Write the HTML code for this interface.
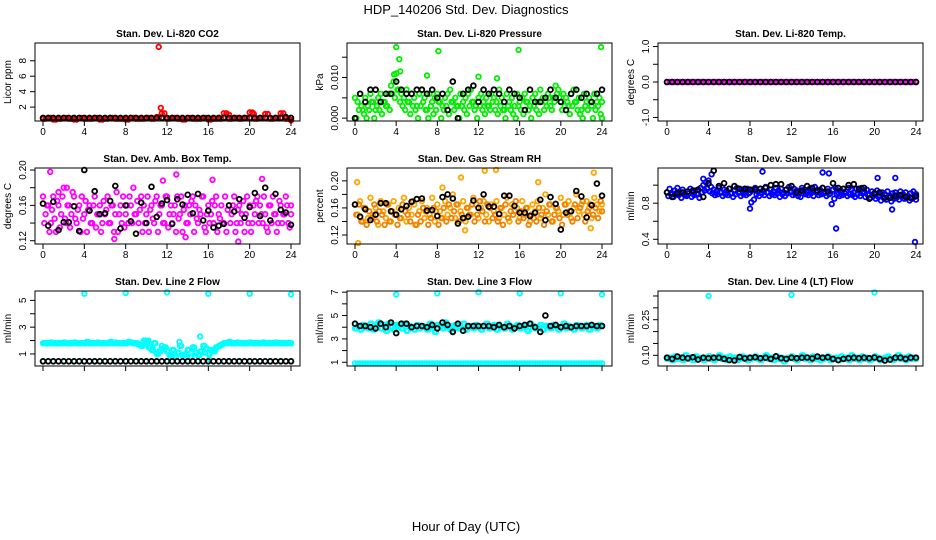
<!DOCTYPE html>
<html><head><meta charset="utf-8"><style>
html,body{margin:0;padding:0;background:#fff;}
svg{display:block;font-family:"Liberation Sans",sans-serif;}
</style></head><body>
<svg id="chart" width="936" height="540" viewBox="0 0 936 540">
<text x="466" y="14" text-anchor="middle" font-size="13">HDP_140206  Std. Dev. Diagnostics</text>
<text x="466" y="531" text-anchor="middle" font-size="13">Hour of Day (UTC)</text>
</svg>
<script>
// ---------- DATA ----------
const xTicks=[0,4,8,12,16,20,24];
// P1 CO2
const co2Red=[0.5,0.6,0.4,0.5,0.6,0.5,0.4,0.6,0.5,0.5,0.6,0.4,0.5,0.6,0.5,0.5,0.4,0.6,0.5,0.5,0.6,0.5,0.7,1.2,0.5,0.6,0.5,0.4,0.6,0.5,0.5,0.6,0.4,0.5,0.5,1.2,0.5,0.6,0.5,0.6,1.3,0.5,0.6,1.1,0.5,0.6,1.2,0.5,0.3];
const co2OutX=[11.2,11.4,18,20.4];
const co2OutY=[9.8,1.9,1.0,1.1];
const co2Black=[0.6,0.6,0.6,0.6,0.6,0.6,0.6,0.6,0.6,0.6,0.6,0.6,0.6,0.6,0.6,0.6,0.6,0.6,0.6,0.6,0.6,0.6,0.6,0.6,0.6,0.6,0.6,0.6,0.6,0.6,0.6,0.6,0.6,0.6,0.6,0.6,0.6,0.6,0.6,0.6,0.6,0.6,0.6,0.6,0.6,0.6,0.6,0.7,0.6];
// P2 Pressure
const presA=[0.005,0.004,0.006,0.002,0.005,0.003,0.006,0.004,0.002,0.005,0.006,0.004,0.003,0.006,0.008,0.009,0.011,0.007,0.006,0.005,0.007,0.004,0.006,0.005,0.003,0.006,0.007,0.005,0.002,0.006,0.004,0.005,0.006,0.004,0.003,0.005,0.006,0.007,0.004,0.005,0.003,0.006,0.004,0.005,0.006,0.007,0.004,0.003,0.005,0.006,0.004,0.005,0.003,0.006,0.005,0.004,0.007,0.005,0.002,0.006,0.004,0.005,0.003,0.006,0.004,0.005,0.006,0.004,0.003,0.005,0.006,0.004,0.007,0.005,0.004,0.006,0.003,0.005,0.008,0.007,0.004,0.006,0.005,0.003,0.006,0.007,0.004,0.005,0.002,0.006,0.004,0.005,0.003,0.006,0.004,0.005,0.004];
const presB=[0.000,0.002,0.003,0.001,0.000,0.002,0.004,0.000,0.003,0.002,0.001,0.004,0.003,0.002,0.006,0.005,0.007,0.004,0.003,0.002,0.004,0.001,0.003,0.002,0.000,0.003,0.004,0.002,0.000,0.003,0.001,0.002,0.004,0.000,0.002,0.003,0.001,0.004,0.002,0.003,0.000,0.003,0.002,0.001,0.003,0.004,0.002,0.000,0.003,0.002,0.001,0.003,0.002,0.004,0.002,0.001,0.003,0.002,0.000,0.003,0.002,0.001,0.000,0.003,0.002,0.001,0.004,0.002,0.000,0.003,0.002,0.001,0.004,0.002,0.003,0.005,0.002,0.004,0.006,0.005,0.002,0.003,0.004,0.001,0.003,0.004,0.002,0.001,0.000,0.003,0.002,0.004,0.000,0.002,0.003,0.001,0.000];
const presOutX=[4.0,4.3,4.4,7.0,8.1,15.9,23.9,3.8,12,13.8];
const presOutY=[0.0175,0.0145,0.0115,0.0105,0.0165,0.0168,0.0175,0.0108,0.0102,0.0098];
const presBlack=[0.000,0.006,0.004,0.007,0.007,0.004,0.006,0.006,0.009,0.007,0.006,0.006,0.007,0.007,0.006,0.007,0.005,0.006,0.002,0.009,0.000,0.006,0.007,0.008,0.004,0.007,0.006,0.007,0.006,0.004,0.007,0.006,0.005,0.002,0.007,0.004,0.004,0.005,0.007,0.005,0.004,0.002,0.006,0.007,0.005,0.006,0.004,0.006,0.007];
// P3 Temp
const tempMag=[0,0,0,0,0,0,0,0,0,0,0,0,0,0,0,0,0,0,0,0,0,0,0,0,0,0,0,0,0,0,0,0,0,0,0,0,0,0,0,0,0,0,0,0,0,0,0,0,0];
const tempBlack=[0,0,0,0,0,0,0,0,0,0,0,0,0,0,0,0,0,0,0,0,0,0,0,0,0,0,0,0,0,0,0,0,0,0,0,0,0,0,0,0,0,0,0,0,0,0,0,0,0];
// P4 Amb box temp
const ambA=[0.17,0.15,0.16,0.14,0.17,0.13,0.16,0.15,0.18,0.14,0.16,0.15,0.17,0.14,0.16,0.17,0.15,0.13,0.16,0.14,0.17,0.15,0.16,0.14,0.15,0.17,0.14,0.16,0.15,0.13,0.16,0.17,0.15,0.14,0.16,0.18,0.15,0.14,0.17,0.16,0.15,0.13,0.16,0.14,0.17,0.15,0.16,0.14,0.17,0.15,0.14,0.16,0.17,0.15,0.13,0.16,0.14,0.15,0.17,0.16,0.14,0.15,0.17,0.13,0.16,0.15,0.14,0.17,0.15,0.16,0.14,0.13,0.16,0.15,0.17,0.14,0.16,0.15,0.13,0.17,0.16,0.14,0.15,0.17,0.16,0.14,0.15,0.13,0.16,0.17,0.15,0.14,0.16,0.15,0.17,0.14,0.16];
const ambB=[0.14,0.16,0.13,0.155,0.145,0.165,0.135,0.17,0.145,0.16,0.135,0.175,0.145,0.155,0.13,0.145,0.165,0.155,0.14,0.16,0.135,0.15,0.13,0.165,0.155,0.14,0.16,0.13,0.175,0.15,0.14,0.135,0.16,0.17,0.14,0.15,0.165,0.155,0.13,0.14,0.17,0.155,0.145,0.165,0.13,0.16,0.14,0.17,0.135,0.16,0.15,0.13,0.145,0.17,0.155,0.14,0.16,0.165,0.13,0.145,0.155,0.17,0.135,0.15,0.14,0.165,0.16,0.13,0.145,0.14,0.17,0.155,0.14,0.16,0.13,0.155,0.14,0.165,0.15,0.14,0.13,0.16,0.165,0.14,0.15,0.17,0.135,0.16,0.14,0.15,0.13,0.165,0.14,0.15,0.16,0.135,0.15];
const ambOutX=[0.7,12.9,16.4,11.6,21.2,18.9,6.9,13.8,2.3,1.5];
const ambOutY=[0.198,0.195,0.189,0.188,0.19,0.119,0.122,0.124,0.18,0.175];
const ambBlack=[0.162,0.137,0.164,0.132,0.141,0.141,0.159,0.131,0.200,0.154,0.176,0.150,0.151,0.165,0.182,0.134,0.160,0.142,0.128,0.163,0.140,0.181,0.147,0.162,0.166,0.139,0.167,0.161,0.172,0.151,0.173,0.143,0.154,0.135,0.137,0.139,0.160,0.153,0.167,0.146,0.158,0.174,0.148,0.180,0.143,0.173,0.155,0.152,0.138];
// P5 Gas stream RH
const rhA=[0.165,0.15,0.17,0.14,0.16,0.145,0.175,0.15,0.16,0.135,0.17,0.155,0.145,0.165,0.14,0.17,0.15,0.16,0.145,0.175,0.14,0.16,0.15,0.165,0.135,0.155,0.17,0.145,0.16,0.15,0.175,0.14,0.165,0.155,0.145,0.17,0.15,0.16,0.18,0.145,0.165,0.155,0.17,0.14,0.16,0.15,0.175,0.165,0.145,0.16,0.17,0.15,0.14,0.165,0.155,0.17,0.145,0.16,0.15,0.175,0.14,0.165,0.155,0.16,0.145,0.17,0.15,0.16,0.14,0.165,0.155,0.17,0.145,0.16,0.18,0.15,0.165,0.14,0.16,0.155,0.175,0.15,0.165,0.17,0.145,0.16,0.18,0.155,0.165,0.15,0.17,0.16,0.145,0.175,0.165,0.155,0.165];
const rhB=[0.15,0.165,0.14,0.16,0.135,0.155,0.145,0.165,0.14,0.155,0.15,0.135,0.165,0.14,0.155,0.15,0.135,0.145,0.165,0.155,0.15,0.14,0.17,0.135,0.15,0.14,0.16,0.155,0.135,0.145,0.16,0.155,0.135,0.145,0.16,0.14,0.165,0.145,0.155,0.165,0.14,0.15,0.145,0.16,0.15,0.165,0.14,0.15,0.17,0.155,0.14,0.165,0.16,0.145,0.15,0.14,0.16,0.135,0.165,0.145,0.155,0.15,0.17,0.14,0.155,0.145,0.16,0.135,0.15,0.145,0.14,0.16,0.15,0.135,0.155,0.165,0.14,0.15,0.16,0.145,0.135,0.165,0.15,0.155,0.14,0.165,0.145,0.16,0.17,0.14,0.155,0.165,0.15,0.16,0.145,0.17,0.155];
const rhOutX=[0.2,0.3,10.7,12.6,13.7,17.8,23.2,22.9,10.3,8.5];
const rhOutY=[0.198,0.108,0.127,0.215,0.216,0.198,0.212,0.13,0.205,0.19];
const rhBlack=[0.165,0.147,0.158,0.142,0.150,0.167,0.167,0.155,0.150,0.158,0.163,0.169,0.173,0.174,0.156,0.157,0.148,0.176,0.180,0.174,0.137,0.145,0.147,0.171,0.160,0.180,0.162,0.162,0.151,0.178,0.178,0.163,0.153,0.153,0.148,0.153,0.172,0.142,0.176,0.166,0.128,0.153,0.155,0.185,0.177,0.146,0.164,0.196,0.178];
// P6 Sample flow
const flowA=[0.92,0.96,0.90,0.94,0.97,0.91,0.95,0.89,0.93,0.96,0.92,0.94,0.90,0.97,1.0,1.03,1.05,0.98,0.95,0.93,0.97,0.92,0.95,0.94,0.96,0.91,0.94,0.97,0.92,0.95,0.93,0.96,0.92,0.95,0.97,0.93,0.96,0.94,0.98,0.92,0.95,0.93,0.97,0.94,0.96,0.92,0.95,0.98,0.93,0.96,0.94,0.92,0.97,0.95,0.93,0.96,0.94,0.98,0.92,0.95,0.97,0.93,0.96,0.91,0.95,0.97,0.92,0.94,0.96,0.93,0.97,0.95,0.92,0.96,0.94,0.97,0.93,0.95,0.90,0.93,0.91,0.94,0.89,0.92,0.90,0.93,0.88,0.91,0.92,0.89,0.93,0.90,0.92,0.88,0.91,0.93,0.90];
const flowB=[0.88,0.90,0.87,0.91,0.89,0.86,0.90,0.88,0.91,0.87,0.89,0.90,0.86,0.92,0.94,0.96,0.93,0.91,0.89,0.90,0.92,0.88,0.90,0.89,0.91,0.87,0.90,0.92,0.88,0.90,0.89,0.91,0.81,0.84,0.90,0.88,0.91,0.89,0.92,0.88,0.90,0.89,0.91,0.87,0.90,0.88,0.91,0.92,0.89,0.90,0.88,0.87,0.91,0.90,0.89,0.91,0.88,0.92,0.89,0.90,0.91,0.88,0.90,0.79,0.85,0.90,0.88,0.89,0.91,0.88,0.90,0.89,0.87,0.90,0.88,0.91,0.87,0.89,0.86,0.88,0.85,0.87,0.83,0.86,0.84,0.87,0.82,0.85,0.86,0.84,0.87,0.85,0.86,0.83,0.85,0.87,0.84];
const flowOutX=[8.0,9.2,15.0,15.6,16.3,21.7,23.9,22.0,20.3,3.5,4.3];
const flowOutY=[0.74,1.15,1.14,1.13,0.52,0.73,0.37,1.08,1.08,1.07,1.12];
const flowBlack=[0.92,0.87,0.91,0.92,0.93,0.94,0.95,0.87,1.02,1.16,0.99,1.02,0.96,0.99,0.96,0.96,0.95,0.95,0.96,0.97,1.00,1.01,1.01,0.95,0.99,0.92,0.94,0.99,0.97,0.94,0.97,0.93,1.02,0.97,0.96,1.00,1.01,0.96,0.97,0.85,0.91,0.92,0.86,0.86,0.88,0.89,0.87,0.86,0.88];
// P7 Line 2 flow
const l2Cyan=[1.8,1.8,1.8,1.85,1.8,1.8,1.8,1.8,1.85,1.8,1.8,1.8,1.85,1.8,1.8,1.8,1.8,1.9,1.8,1.8,1.8,1.85,1.8,1.8,1.8,1.8,1.9,1.8,1.85,1.8,1.8,1.8,1.8,1.9,1.85,1.8,1.8,1.7,1.6,2.0,1.9,1.5,1.3,1.8,1.0,1.2,1.4,1.5,1.2,0.9,1.3,0.8,1.1,1.6,0.9,1.0,1.3,0.8,1.5,1.1,0.9,1.2,1.6,1.4,1.0,1.3,1.2,1.5,1.6,1.7,1.8,1.8,1.9,1.8,1.8,1.85,1.8,1.8,1.8,1.8,1.85,1.8,1.8,1.8,1.8,1.85,1.8,1.8,1.8,1.8,1.85,1.8,1.8,1.8,1.8,1.8,1.8];
const l2CyanLow=[0.45,0.45,0.45,0.45,0.45,0.45,0.45,0.45,0.45,0.45,0.45,0.45,0.45,0.45,0.45,0.45,0.45,0.45,0.45,0.45,0.45,0.45,0.45,0.45,0.45];
const l2OutX=[4,8,12,16,20,24,11.5,12.5,13.2,14.5,15.2,15.6,16.1,10.2,10.6,11.0];
const l2OutY=[5.5,5.55,5.6,5.5,5.5,5.45,1.6,0.8,1.9,1.4,2.3,1.1,0.6,2.0,1.5,1.1];
const l2Black=[0.45,0.45,0.45,0.45,0.45,0.45,0.45,0.45,0.45,0.45,0.45,0.45,0.45,0.45,0.45,0.45,0.45,0.45,0.45,0.45,0.45,0.45,0.45,0.45,0.45,0.45,0.45,0.45,0.45,0.45,0.45,0.45,0.45,0.45,0.45,0.45,0.45,0.45,0.45,0.45,0.45,0.45,0.45,0.45,0.45,0.45,0.45,0.45,0.45];
// P8 Line 3 flow
const l3Cyan=[3.9,4.1,3.8,4.2,4.0,3.9,4.3,3.8,4.1,4.4,3.9,4.2,3.7,4.3,4.0,3.8,4.2,4.1,3.9,4.3,3.7,4.1,4.0,3.8,4.2,3.9,4.1,4.0,3.8,4.3,4.0,3.6,4.2,4.1,3.9,4.4,4.0,3.8,4.1,4.2,3.9,4.0,4.3,3.8,4.1,4.0,3.9,4.2,4.0,3.8,4.1,4.3,3.9,4.0,4.2,3.8,4.1,4.0,3.9,4.3,4.1,3.8,4.0,4.2,3.9,4.1,4.0,3.7,4.3,4.1,3.9,4.0,4.2,3.8,4.1,4.0,3.9,4.2,4.1,3.8,4.0,4.3,3.9,4.1,4.0,3.8,4.2,4.1,3.9,4.0,4.2,3.8,4.1,4.0,3.9,4.2,4.1];
const l3CyanLow=[0.9,0.9,0.9,0.9,0.9,0.9,0.9,0.9,0.9,0.9,0.9,0.9,0.9,0.9,0.9,0.9,0.9,0.9,0.9,0.9,0.9,0.9,0.9,0.9,0.9,0.9,0.9,0.9,0.9,0.9,0.9,0.9,0.9,0.9,0.9,0.9,0.9,0.9,0.9,0.9,0.9,0.9,0.9,0.9,0.9,0.9,0.9,0.9,0.9];
const l3OutX=[4,8,12,16,20,24];
const l3OutY=[6.8,6.9,7.0,6.9,6.9,6.8];
const l3Black=[4.3,4.1,4.1,4.0,3.9,4.3,4.0,4.4,3.5,4.3,4.3,4.0,4.1,4.1,4.0,4.2,3.9,4.4,4.2,3.6,4.3,3.7,4.1,4.1,4.1,4.1,4.1,4.0,4.2,4.0,4.1,3.9,4.1,4.2,4.3,4.0,3.6,5.0,4.1,4.2,4.0,4.1,4.0,4.1,4.1,4.1,4.2,4.1,4.1];
// P9 Line 4 flow
const l4Cyan=[0.085,0.09,0.08,0.095,0.085,0.09,0.08,0.1,0.085,0.09,0.08,0.095,0.09,0.085,0.08,0.09,0.095,0.085,0.08,0.09,0.1,0.085,0.09,0.08,0.095,0.085,0.09,0.08,0.085,0.095,0.09,0.08,0.085,0.09,0.095,0.085,0.08,0.09,0.1,0.085,0.09,0.08,0.095,0.085,0.09,0.075,0.085,0.09,0.095,0.085,0.08,0.09,0.1,0.085,0.09,0.08,0.095,0.085,0.09,0.08,0.085,0.09,0.095,0.08,0.085,0.09,0.08,0.095,0.085,0.09,0.08,0.1,0.085,0.09,0.08,0.095,0.085,0.09,0.08,0.085,0.095,0.09,0.08,0.085,0.09,0.095,0.085,0.08,0.09,0.1,0.085,0.09,0.08,0.095,0.085,0.09,0.085];
const l4OutX=[4,12,20];
const l4OutY=[0.35,0.355,0.365];
const l4Black=[0.09,0.085,0.095,0.09,0.088,0.092,0.082,0.09,0.088,0.09,0.09,0.085,0.08,0.078,0.093,0.087,0.09,0.092,0.088,0.09,0.085,0.096,0.088,0.085,0.09,0.088,0.09,0.091,0.087,0.095,0.09,0.092,0.085,0.08,0.085,0.088,0.09,0.088,0.09,0.088,0.091,0.085,0.078,0.082,0.09,0.09,0.085,0.09,0.09];

// ---------- LAYOUT ----------
const cols=[{l:35,r:300,x0:43,x24:291},{l:347,r:612,x0:355,x24:602},{l:658,r:923,x0:667,x24:916}];
const rows=[{t:43,b:121,labels:true},{t:168,b:244,labels:true},{t:291,b:366,labels:false}];
const svg=document.getElementById('chart');
const NS='http://www.w3.org/2000/svg';
function mk(tag,attrs,parent){const e=document.createElementNS(NS,tag);for(const k in attrs)e.setAttribute(k,attrs[k]);(parent||svg).appendChild(e);return e;}

function panel(ci,ri,title,ylab,ymin,ymax,yTicks,yLabels,series,slug){
  const c=cols[ci],r=rows[ri];
  const g=mk('g',{});
  
  
  const xs=v=>c.x0+(c.x24-c.x0)*v/24;
  const ys=v=>r.b-(v-ymin)/(ymax-ymin)*(r.b-r.t);
  const pg=mk('g',{},g);
  
  
  series.forEach(s=>{
    const n=s.y.length;
    for(let i=0;i<n;i++){
      let xv=s.x?s.x[i]:i*24/(n-1);
      if(s.shift && i<n-1) xv+=12/(n-1);
      const cy=ys(s.y[i]);
      if(cy<r.t-4||cy>r.b+4)continue;
      const el=mk('circle',{cx:xs(xv).toFixed(1),cy:cy.toFixed(1),r:s.r,fill:'none',stroke:s.col,'stroke-width':s.w},pg);
      
      
    }
  });
  const bx=mk('rect',{x:c.l,y:r.t,width:c.r-c.l,height:r.b-r.t,fill:'none',stroke:'#000','stroke-width':1},g);
  
  
  const tt=mk('text',{x:(c.l+c.r)/2,y:r.t-6,'text-anchor':'middle','font-size':10,'font-weight':'bold'},g);
  tt.textContent=title;
  
  
  xTicks.forEach(t=>{
    const x=xs(t);
    mk('line',{x1:x,x2:x,y1:r.b,y2:r.b+5,stroke:'#000'},g);
    if(r.labels){
      const tl=mk('text',{x:x,y:r.b+14,'text-anchor':'middle','font-size':10},g);
      tl.textContent=t;
      
      
    }
  });
  yTicks.forEach((t,i)=>{
    const y=ys(t);
    mk('line',{x1:c.l-5,x2:c.l,y1:y,y2:y,stroke:'#000'},g);
    if(yLabels[i]!==''){
      const tl=mk('text',{x:c.l-9,y:y,'text-anchor':'middle','font-size':10,transform:`rotate(-90 ${c.l-9} ${y})`},g);
      tl.textContent=yLabels[i];
      
      
    }
  });
  const yl=mk('text',{x:c.l-24,y:(r.t+r.b)/2,'text-anchor':'middle','font-size':10,transform:`rotate(-90 ${c.l-24} ${(r.t+r.b)/2})`},g);
  yl.textContent=ylab;
  
  
}
const cs=(y,col,x)=>({y:y,x:x,col:col,r:2.3,w:1.8});
const csS=(y,col)=>({y:y,col:col,r:2.3,w:1.8,shift:true});
const bk=(y)=>({y:y,col:'#000',r:2.4,w:1.8});

panel(0,0,'Stan. Dev. Li-820 CO2','Licor ppm',0.2,10.3,[2,4,6,8],['2','4','6','8'],
  [cs(co2Red,'#ff0000'),csS(co2Red,'#ff0000'),cs(co2OutY,'#ff0000',co2OutX),bk(co2Black)],'co2');
panel(1,0,'Stan. Dev. Li-820 Pressure','kPa',-0.0007,0.0185,[0,0.005,0.01,0.015],['0.000','','0.010',''],
  [cs(presA,'#00ee00'),csS(presB,'#00ee00'),cs(presOutY,'#00ee00',presOutX),bk(presBlack)],'pressure');
panel(2,0,'Stan. Dev. Li-820 Temp.','degrees C',-1.1,1.1,[-1,-0.5,0,0.5,1],['-1.0','','0.0','','1.0'],
  [cs(tempMag,'#ff00ff'),csS(tempMag,'#ff00ff'),bk(tempBlack)],'li820-temp');
panel(0,1,'Stan. Dev. Amb. Box Temp.','degrees C',0.1163,0.2023,[0.12,0.14,0.16,0.18,0.20],['0.12','','0.16','','0.20'],
  [cs(ambA,'#ff00ff'),csS(ambB,'#ff00ff'),cs(ambOutY,'#ff00ff',ambOutX),bk(ambBlack)],'amb-temp');
panel(1,1,'Stan. Dev. Gas Stream RH','percent',0.1067,0.219,[0.12,0.14,0.16,0.18,0.20],['0.12','','0.16','','0.20'],
  [cs(rhA,'#ffa500'),csS(rhB,'#f08000'),cs(rhOutY,'#ffa500',rhOutX),bk(rhBlack)],'gas-rh');
panel(2,1,'Stan. Dev. Sample Flow','ml/min',0.348,1.19,[0.4,0.6,0.8,1.0],['0.4','','0.8',''],
  [cs(flowA,'#0000ff'),csS(flowB,'#0000ff'),cs(flowOutY,'#0000ff',flowOutX),bk(flowBlack)],'sample-flow');
panel(0,2,'Stan. Dev. Line 2 Flow','ml/min',0.1,5.7,[1,2,3,4,5],['1','','3','','5'],
  [cs(l2Cyan,'#00ffff'),csS(l2Cyan,'#00ffff'),cs(l2CyanLow,'#00ffff'),cs(l2OutY,'#00ffff',l2OutX),bk(l2Black)],'line2-flow');
panel(1,2,'Stan. Dev. Line 3 Flow','ml/min',0.68,7.1,[1,2,3,4,5,6,7],['1','','3','','5','','7'],
  [cs(l3Cyan,'#00ffff'),csS(l3Cyan,'#00ffff'),cs(l3CyanLow,'#00ffff'),csS(l3CyanLow,'#00ffff'),cs(l3OutY,'#00ffff',l3OutX),bk(l3Black)],'line3-flow');
panel(2,2,'Stan. Dev. Line 4 (LT) Flow','ml/min',0.055,0.371,[0.10,0.15,0.20,0.25,0.30,0.35],['0.10','','','0.25','',''],
  [cs(l4Cyan,'#00ffff'),csS(l4Cyan,'#00ffff'),cs(l4OutY,'#00ffff',l4OutX),bk(l4Black)],'line4-flow');
</script>
</body></html>
